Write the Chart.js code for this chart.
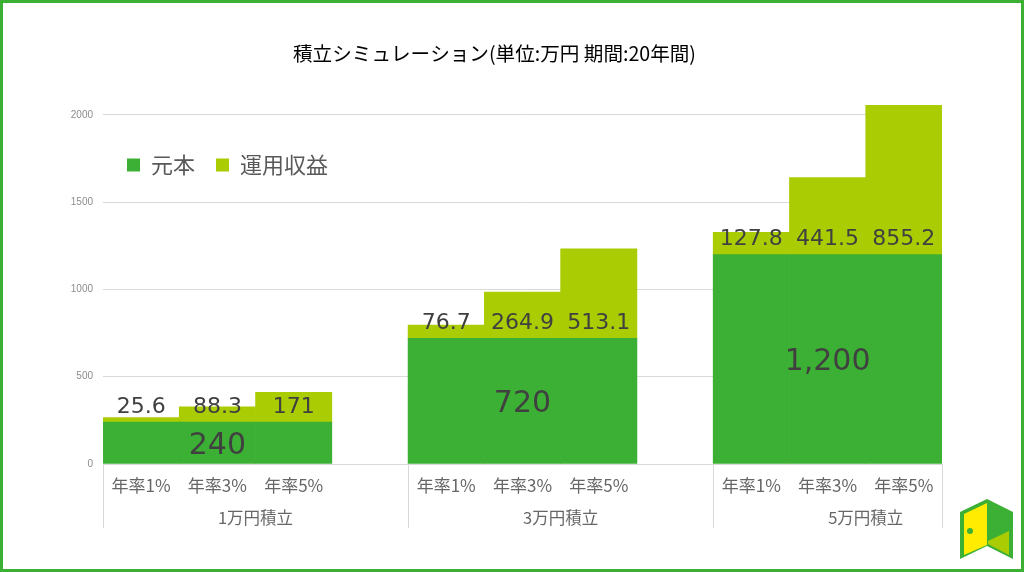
<!DOCTYPE html>
<html lang="ja">
<head>
<meta charset="utf-8">
<style>
html, body { margin: 0; padding: 0; background: #fff; }
#wrap { position: relative; width: 1024px; height: 572px; overflow: hidden; }
#frame { position: absolute; left: 0; top: 0; width: 1018px; height: 566px; border: 3px solid #3cb034; pointer-events: none; }
#logo { position: absolute; left: 0; top: 0; }
</style>
</head>
<body>
<div id="wrap">
  <canvas id="myChart" width="1024" height="572"></canvas>
  <div id="frame"></div>
  <svg id="logo" width="1024" height="572">
    <polygon points="960,512 987,499 1013,512 1013,559 987,546 960,559" fill="#3cb034"/>
    <polygon points="964,514 987,503 987,545 964,555" fill="#ffec00"/>
    <polygon points="988,541 1009,531 1009,555 988,544" fill="#aacc03"/>
    <circle cx="970" cy="531" r="3" fill="#3cb034"/>
  </svg>
</div>
<script src="https://cdn.jsdelivr.net/npm/chart.js@4/dist/chart.umd.js"></script>
<script>
var titleText = '積立シミュレーション(単位:万円 期間:20年間)';
var rateLabels = ['年率1%', '年率3%', '年率5%', '', '年率1%', '年率3%', '年率5%', '', '年率1%', '年率3%', '年率5%'];
var principal = [240, 240, 240, null, 720, 720, 720, null, 1200, 1200, 1200];
var profit = [25.6, 88.3, 171, null, 76.7, 264.9, 513.1, null, 127.8, 441.5, 855.2];
var principalLabels = ['', '240', '', '', '', '720', '', '', '', '1,200', ''];
var groupNames = ['1万円積立', '3万円積立', '5万円積立'];
var groupCenters = [2, 6, 10];
var groupEdges = [0, 4, 8, 11];
var yTicks = [0, 500, 1000, 1500, 2000];

var jpFont = '"Noto Sans CJK JP", "Noto Sans", sans-serif';

// numbers on the bars, and the lines between the groups under the axis
var extras = {
  id: 'extras',
  beforeDraw: function(chart) {
    chart.titleBlock.left = -17.5;
    chart.titleBlock.right = chart.width - 17.5;
    chart.titleBlock.top = 42;
    chart.legend.left = 106;
    chart.legend.right = 500;
    chart.legend.top = 133;
    chart.legend.bottom = 200;
  },
  afterDatasetsDraw: function(chart) {
    var ctx = chart.ctx;
    ctx.save();
    ctx.textAlign = 'center';
    ctx.textBaseline = 'middle';
    ctx.fillStyle = '#404040';

    ctx.font = '30px "DejaVu Sans"';
    chart.getDatasetMeta(0).data.forEach(function(bar, i) {
      if (principalLabels[i]) ctx.fillText(principalLabels[i], bar.x, (bar.y + bar.base) / 2 + 3);
    });

    ctx.font = '22px "DejaVu Sans"';
    chart.getDatasetMeta(1).data.forEach(function(bar, i) {
      if (profit[i] !== null) ctx.fillText(String(profit[i]), bar.x, bar.base - 15);
    });

    var x2 = chart.scales.x2;
    ctx.strokeStyle = '#d9d9d9';
    ctx.lineWidth = 1;
    groupEdges.forEach(function(v) {
      var px = Math.round(x2.getPixelForValue(v)) + 0.5;
      ctx.beginPath();
      ctx.moveTo(px, chart.chartArea.bottom);
      ctx.lineTo(px, 528);
      ctx.stroke();
    });
    ctx.restore();
  }
};

new Chart(document.getElementById('myChart'), {
  type: 'bar',
  plugins: [extras],
  data: {
    labels: rateLabels,
    datasets: [
      { label: '元本', data: principal, backgroundColor: '#3cb034', barPercentage: 1, categoryPercentage: 1 },
      { label: '運用収益', data: profit, backgroundColor: '#aacc03', barPercentage: 1, categoryPercentage: 1 }
    ]
  },
  options: {
    responsive: false,
    animation: false,
    layout: { padding: { left: 43, right: 82, top: 21, bottom: 42 } },
    plugins: {
      tooltip: { enabled: false },
      title: {
        display: true,
        text: titleText,
        color: '#000',
        font: { family: jpFont, size: 19.6, weight: 'normal' },
        padding: { top: 0, bottom: 0 }
      },
      legend: {
        display: true,
        position: 'top',
        align: 'start',
        labels: {
          color: '#595959',
          boxWidth: 13,
          boxHeight: 13,
          padding: 21,
          font: { family: jpFont, size: 22 }
        }
      }
    },
    scales: {
      x: {
        stacked: true,
        weight: 0,
        afterFit: function(s) { s.height = 36; },
        grid: { display: false },
        border: { color: '#d9d9d9' },
        ticks: { color: '#666', autoSkip: false, maxRotation: 0, padding: 3, font: { family: jpFont, size: 17 } }
      },
      x2: {
        type: 'linear',
        position: 'bottom',
        weight: 1,
        min: 0,
        max: 11,
        offset: false,
        bounds: 'data',
        afterFit: function(s) { s.height = 30; },
        afterBuildTicks: function(s) { s.ticks = groupCenters.map(function(v) { return { value: v }; }); },
        grid: { display: false },
        border: { display: false },
        ticks: {
          color: '#666',
          autoSkip: false,
          maxRotation: 0,
          padding: 0,
          font: { family: jpFont, size: 16.5 },
          callback: function(v, i) { return groupNames[i]; }
        }
      },
      y: {
        stacked: true,
        min: 0,
        max: 2100,
        afterFit: function(s) { s.width = 60; },
        afterBuildTicks: function(s) { s.ticks = yTicks.map(function(v) { return { value: v }; }); },
        grid: { color: '#d9d9d9', drawTicks: false },
        border: { display: false },
        ticks: {
          color: '#8c8c8c',
          padding: 10,
          font: { family: '"Liberation Sans Narrow", "Liberation Sans", sans-serif', size: 10 },
          callback: function(v) { return String(v); }
        }
      }
    }
  }
});
</script>
</body>
</html>
